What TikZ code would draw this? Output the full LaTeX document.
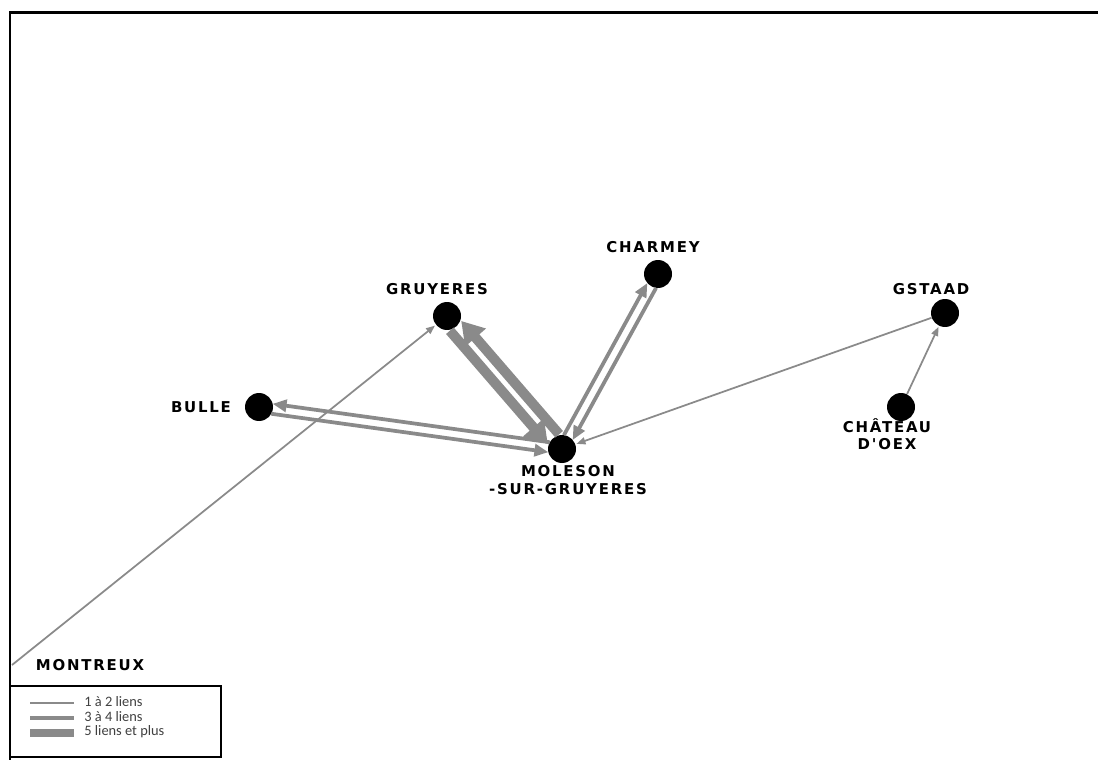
\documentclass[tikz,border=0pt]{standalone}
\usepackage{fontspec}
\usepackage{tikz}
\usetikzlibrary{arrows.meta,calc,positioning}
\newfontfamily\villefont[LetterSpace=12]{DejaVu Sans}
\newfontfamily\legfont{Carlito}
\definecolor{liengris}{RGB}{138,138,138}
\tikzset{
    ville/.style={circle, fill=black, minimum size=0.56cm, inner sep=0pt},
    nom/.style={font=\villefont\bfseries\fontsize{8.5}{10}\selectfont, align=center, inner sep=0pt},
    lien1/.style={liengris, line width=0.035cm, -{Triangle[length=0.18cm,width=0.14cm]}, shorten >=0.02cm},
    lien3/.style={liengris, line width=0.075cm, -{Triangle[length=0.28cm,width=0.24cm]}, shorten >=0.26cm, shorten <=0.26cm},
    lien5/.style={liengris, line width=0.2cm, -{Triangle[length=0.44cm,width=0.52cm]}, shorten >=0.26cm, shorten <=0.26cm},
    cadre/.style={line width=0.05cm, black},
    legtxt/.style={font=\legfont\fontsize{8.2}{9}\selectfont, text=black!75, anchor=west, inner sep=0pt},
}

\begin{document}
\begin{tikzpicture}[x=0.02cm, y=-0.02cm]
    \useasboundingbox (0,0) rectangle (1098,760);
    \draw[cadre] (10,760) -- (10,12.5) -- (1098,12.5);

    \node[ville] (gru) at (447,316) {};
    \node[ville] (cha) at (658,274) {};
    \node[ville] (gst) at (945,313) {};
    \node[ville] (bul) at (259,407) {};
    \node[ville] (mol) at (562,449) {};
    \node[ville] (chx) at (901,407) {};
    \coordinate (mon) at (12,665);

    \node[nom] (gru-t) at (437,289) {GRUYERES};
    \node[nom] (cha-t) at (653,247) {CHARMEY};
    \node[nom] (gst-t) at (931,289) {GSTAAD};
    \node[nom] (bul-t) at (201,407) {BULLE};
    \node[nom] (mol-t) at (568,480) {MOLESON\\-SUR-GRUYERES};
    \node[nom] (chx-t) at (887,434) {CHÂTEAU\\D'OEX};
    \node[nom] (mon-t) at (90,665) {MONTREUX};

    \draw[lien5] ($(gru)!0.15cm!-90:(mol)$) -- ($(mol)!0.15cm!90:(gru)$);
    \draw[lien5] ($(mol)!0.15cm!-90:(gru)$) -- ($(gru)!0.15cm!90:(mol)$);
    \draw[lien3] ($(bul)!0.1cm!-90:(mol)$) -- ($(mol)!0.1cm!90:(bul)$);
    \draw[lien3] ($(mol)!0.1cm!-90:(bul)$) -- ($(bul)!0.1cm!90:(mol)$);
    \draw[lien3] ($(mol)!0.1cm!90:(cha)$) -- ($(cha)!0.1cm!-90:(mol)$);
    \draw[lien3] ($(cha)!0.1cm!90:(mol)$) -- ($(mol)!0.1cm!-90:(cha)$);
    \draw[lien1] (gst) -- (mol);
    \draw[lien1] (chx) -- (gst);
    \draw[lien1] (mon) -- (gru);

    \draw[cadre] (10,686) rectangle (221,757);
    \draw[liengris, line width=0.03cm] (30,703) -- (74,703);
    \draw[liengris, line width=0.075cm] (30,718) -- (74,718);
    \draw[liengris, line width=0.17cm] (30,733) -- (74,733);
    \node[legtxt] (leg1) at (84,702) {1 à 2 liens};
    \node[legtxt] (leg3) at (84,717) {3 à 4 liens};
    \node[legtxt] (leg5) at (84,732) {5 liens et plus};
\end{tikzpicture}
\end{document}
